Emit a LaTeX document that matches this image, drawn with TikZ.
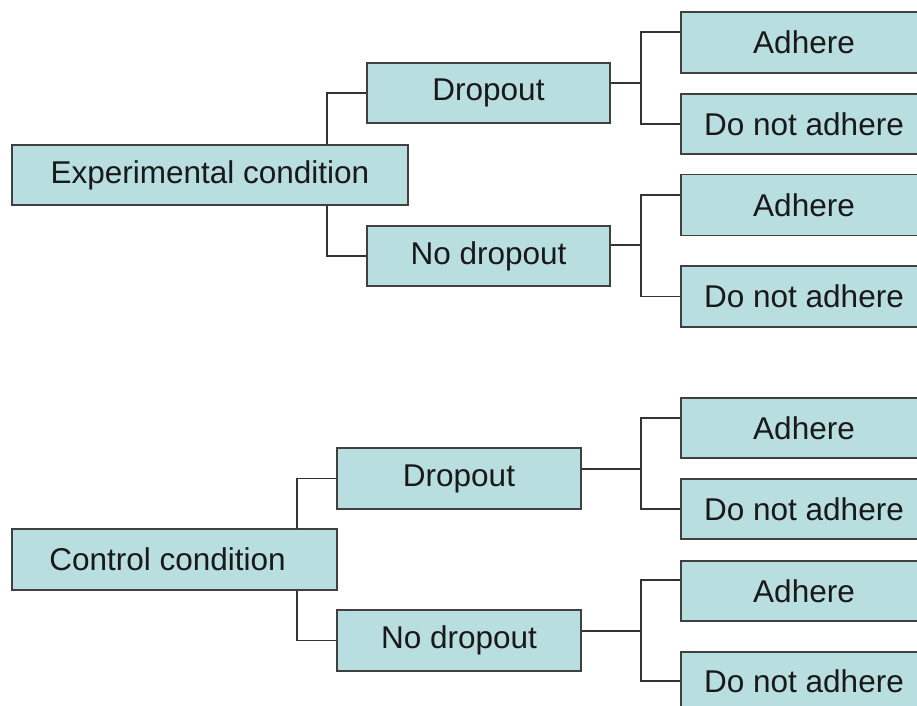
\documentclass[tikz,border=0pt]{standalone}
\usepackage{fontspec}
\setmainfont{Liberation Sans}
\definecolor{boxfill}{HTML}{B8DEE0}
\definecolor{boxline}{HTML}{404040}
\definecolor{conline}{HTML}{333333}
\begin{document}
\begin{tikzpicture}[x=1pt,y=-1pt,
  box/.style={draw=boxline,fill=boxfill,line width=1.4pt,rectangle,inner sep=0pt,
    minimum height=60pt,font=\fontsize{31.5}{36}\selectfont,text=black!90},
  midbox/.style={box,minimum width=243pt},
  leafbox/.style={box,minimum width=246pt},
  con/.style={draw=conline,line width=1.1pt}]
\useasboundingbox (0,0) rectangle (917,705);
\fill[white] (0,0) rectangle (917,705);
\clip (0,0) rectangle (917,705);
% top tree
\node[box,minimum width=396pt] (exp) at (210,175) {Experimental condition};
\node[midbox] (d1) at (488.5,93) {Dropout};
\node[midbox] (n1) at (488.5,256) {No dropout};
\node[leafbox,minimum height=61pt] (a1) at (804,42.5) {Adhere};
\node[leafbox] (na1) at (804,124) {Do not adhere};
\node[leafbox,minimum height=61pt] (a2) at (804,205) {Adhere};
\node[leafbox,minimum height=61pt] (na2) at (804,296.5) {Do not adhere};
% bottom tree
\node[box,minimum width=325pt,minimum height=61pt] (ctrl) at (174.5,559.5) {Control condition\kern14pt};
\node[box,minimum width=244pt,minimum height=61pt] (d2) at (459,478.5) {Dropout};
\node[box,minimum width=244pt,minimum height=61pt] (n2) at (459,640.5) {No dropout};
\node[leafbox] (a3) at (804,428) {Adhere};
\node[leafbox] (na3) at (804,509) {Do not adhere};
\node[leafbox] (a4) at (804,591) {Adhere};
\node[leafbox,minimum height=58pt] (na4) at (804,681) {Do not adhere};
% junction x positions
\coordinate (jx1) at (327,0);
\coordinate (jx2) at (641,0);
\coordinate (jx3) at (297,0);
% connectors top
\draw[con] (exp.north -| jx1) |- (d1.west);
\draw[con] (exp.south -| jx1) |- (n1.west);
\draw[con] ([yshift=10pt]d1.east) -- ([yshift=10pt]d1.east -| jx2);
\draw[con] ([yshift=10.5pt]a1.west) -| (jx2 |- na1.west) -- (na1.west);
\draw[con] ([yshift=11pt]n1.east) -- ([yshift=11pt]n1.east -| jx2);
\draw[con] ([yshift=10pt]a2.west) -| (jx2 |- na2.west) -- (na2.west);
% connectors bottom
\draw[con] (ctrl.north -| jx3) |- (d2.west);
\draw[con] (ctrl.south -| jx3) |- (n2.west);
\draw[con] ([yshift=9.5pt]d2.east) -- ([yshift=9.5pt]d2.east -| jx2);
\draw[con] ([yshift=10pt]a3.west) -| (jx2 |- na3.west) -- (na3.west);
\draw[con] ([yshift=9.5pt]n2.east) -- ([yshift=9.5pt]n2.east -| jx2);
\draw[con] ([yshift=11pt]a4.west) -| (jx2 |- na4.west) -- (na4.west);
\end{tikzpicture}
\end{document}
